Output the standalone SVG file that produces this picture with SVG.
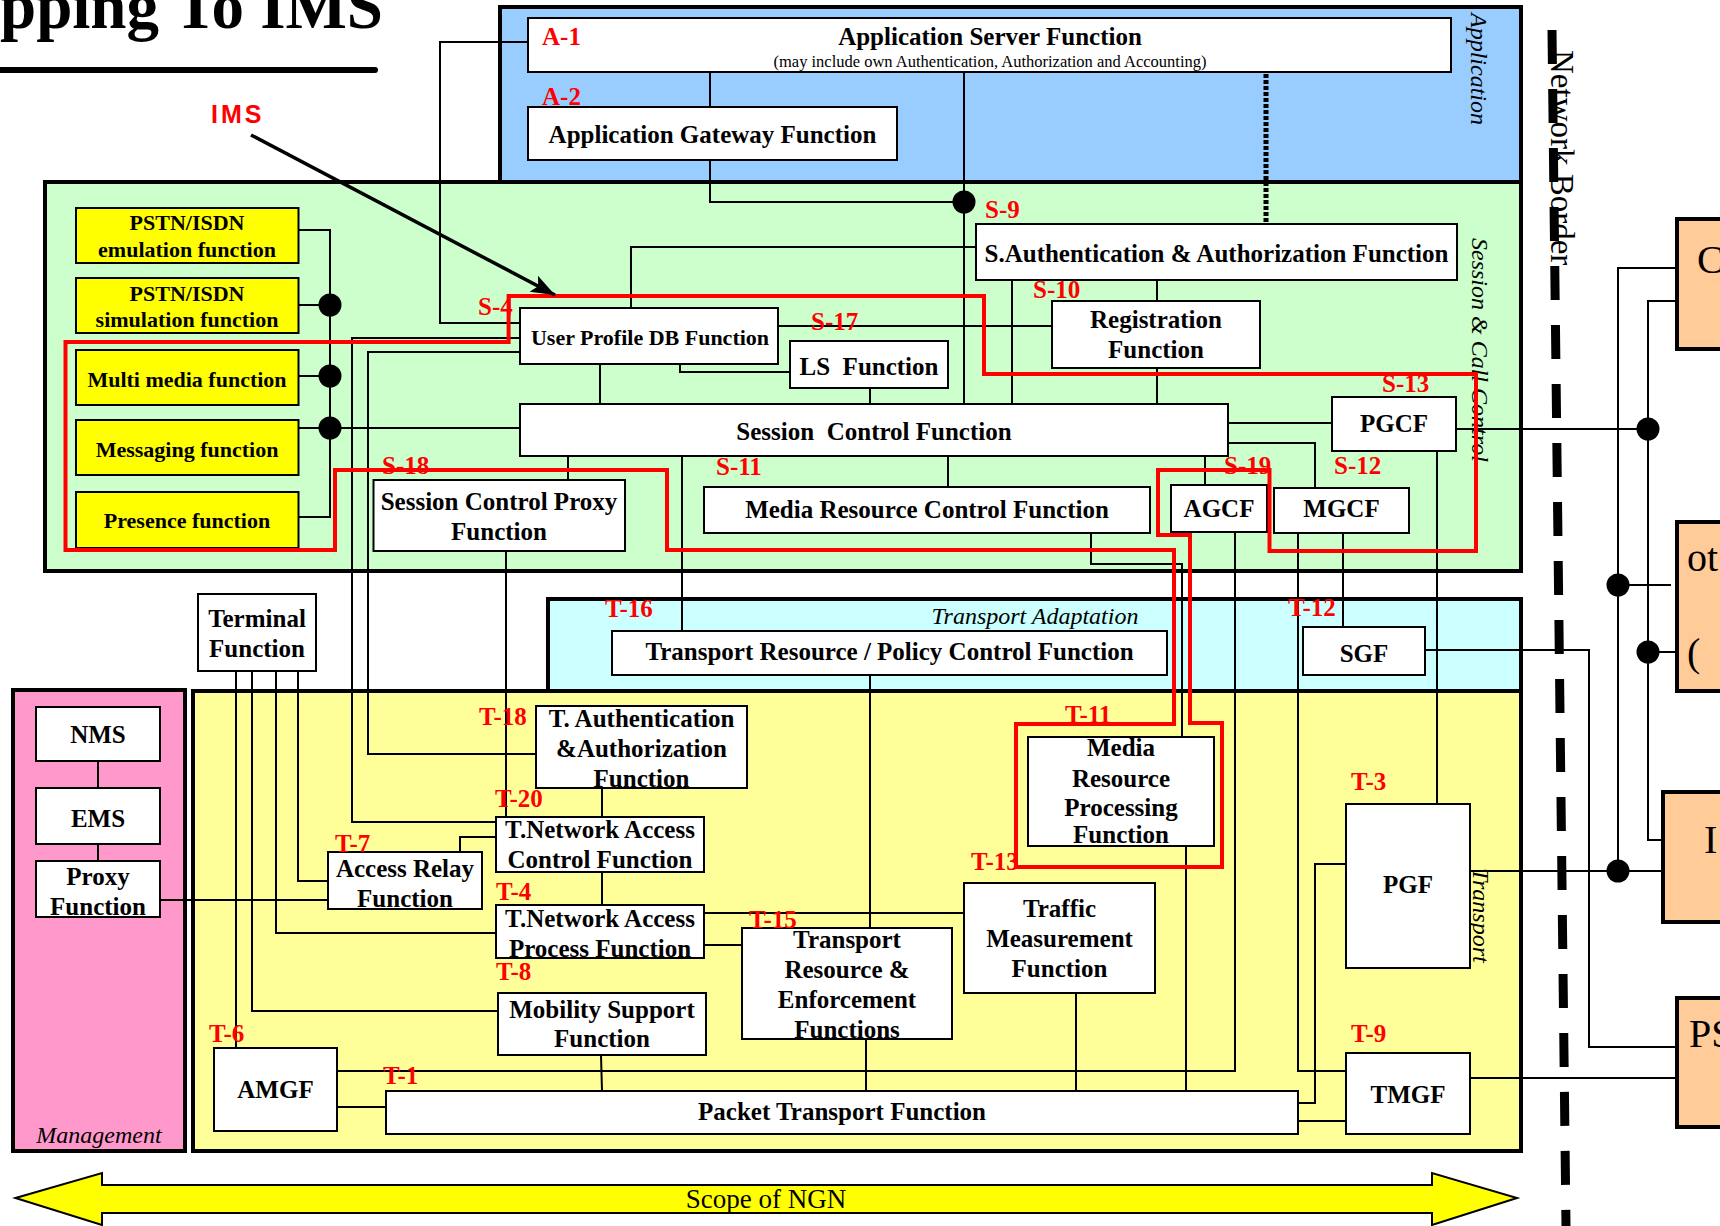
<svg xmlns="http://www.w3.org/2000/svg" width="1720" height="1226" viewBox="0 0 1720 1226">
<style>
.region{stroke:#000;stroke-width:4}
.box{fill:#fff;stroke:#000;stroke-width:2}
.ybox{fill:#ff0;stroke:#000;stroke-width:2}
.obox{fill:#fc9;stroke:#000;stroke-width:4}
.t{font-family:"Liberation Serif","Times New Roman",serif;font-weight:bold;font-size:25px;text-anchor:middle;fill:#000}
.ts{font-size:22px}
.lbl{font-family:"Liberation Serif","Times New Roman",serif;font-weight:bold;font-size:25px;fill:#f00}
.wire{fill:none;stroke:#000;stroke-width:2}
.dot{fill:#000}
.layer{font-family:"Liberation Serif","Times New Roman",serif;font-style:italic;font-size:24px;fill:#000}
.big{font-family:"Liberation Serif","Times New Roman",serif;font-size:40px;fill:#000}
</style>
<defs>
<marker id="ah" markerUnits="userSpaceOnUse" markerWidth="26" markerHeight="20" refX="24" refY="10" orient="auto">
<path d="M0,1 L24,10 L0,19 L5,10 Z" fill="#000"/>
</marker>
</defs>
<rect width="1720" height="1226" fill="#fff"/>

<!-- title -->
<text x="0" y="28" font-family="Liberation Serif, Times New Roman, serif" font-weight="bold" font-size="65">pping To IMS</text>
<line x1="0" y1="70" x2="375" y2="70" stroke="#000" stroke-width="6" stroke-linecap="round"/>

<!-- layers -->
<g id="layers">
<rect class="region" x="500" y="7" width="1021" height="175" fill="#99ccff"/>
<rect class="region" x="45" y="182" width="1476" height="389" fill="#ccffcc"/>
<rect class="region" x="548" y="599" width="973" height="92" fill="#ccffff"/>
<rect class="region" x="193" y="691" width="1328" height="460" fill="#ffff99"/>
<rect class="region" x="13" y="690" width="172" height="461" fill="#ff99cc"/>
<text class="layer" transform="translate(1471,13) rotate(90)">Application</text>
<text class="layer" transform="translate(1472,238) rotate(90)">Session &amp; Call Control</text>
<text class="layer" transform="translate(1473,868) rotate(90)">Transport</text>
<text class="layer" x="1035" y="624" text-anchor="middle" font-size="25">Transport Adaptation</text>
<text class="layer" x="99" y="1143" text-anchor="middle" font-size="25">Management</text>
</g>

<!-- network border -->
<g id="network-border">
<line x1="1552" y1="30" x2="1566" y2="1226" stroke="#000" stroke-width="9" stroke-dasharray="34 25"/>
<text transform="translate(1551,50) rotate(90)" font-family="Liberation Serif, Times New Roman, serif" font-size="33">Network Border</text>
</g>

<!-- connectors -->
<g id="connectors">
<polyline class="wire" points="528,42 440,42 440,323 520,323"/>
<polyline class="wire" points="710,72 710,107"/>
<polyline class="wire" points="710,160 710,202 964,202"/>
<polyline class="wire" points="964,72 964,404"/>
<line x1="1266" y1="74" x2="1266" y2="224" stroke="#000" stroke-width="5" stroke-dasharray="4 2"/>
<polyline class="wire" points="976,247 631,247 631,308"/>
<polyline class="wire" points="1157,280 1157,301"/>
<polyline class="wire" points="1157,368 1157,404"/>
<polyline class="wire" points="1012,280 1012,404"/>
<polyline class="wire" points="778,326 1052,326"/>
<polyline class="wire" points="680,364 680,372 790,372"/>
<polyline class="wire" points="600,364 600,404"/>
<polyline class="wire" points="870,388 870,404"/>
<polyline class="wire" points="1228,423 1332,423"/>
<polyline class="wire" points="1228,443 1315,443 1315,488"/>
<polyline class="wire" points="1205,456 1205,485"/>
<polyline class="wire" points="568,456 568,480"/>
<polyline class="wire" points="948,456 948,487"/>
<polyline class="wire" points="682,456 682,631"/>
<polyline class="wire" points="298,230 330,230 330,517 298,517"/>
<polyline class="wire" points="298,305 330,305"/>
<polyline class="wire" points="298,376 330,376"/>
<polyline class="wire" points="298,428 520,428"/>
<polyline class="wire" points="520,338 352,338 352,822 496,822"/>
<polyline class="wire" points="520,352 368,352 368,754 536,754"/>
<polyline class="wire" points="506,551 506,817"/>
<polyline class="wire" points="602,788 602,817"/>
<polyline class="wire" points="1091,533 1091,564 1182,564 1182,737"/>
<polyline class="wire" points="1186,846 1186,1091"/>
<polyline class="wire" points="1235,532 1235,1071 337,1071"/>
<polyline class="wire" points="1298,533 1298,1071 1346,1071"/>
<polyline class="wire" points="1343,533 1343,627"/>
<polyline class="wire" points="1437,451 1437,804"/>
<polyline class="wire" points="870,675 870,928"/>
<polyline class="wire" points="602,872 602,905"/>
<polyline class="wire" points="704,913 964,913"/>
<polyline class="wire" points="704,945 742,945"/>
<polyline class="wire" points="298,671 298,881 328,881"/>
<polyline class="wire" points="276,671 276,933 496,933"/>
<polyline class="wire" points="252,671 252,1011 498,1011"/>
<polyline class="wire" points="236,671 236,1048"/>
<polyline class="wire" points="160,900 328,900"/>
<polyline class="wire" points="460,852 460,837 496,837"/>
<polyline class="wire" points="601,1055 602,1091"/>
<polyline class="wire" points="866,1039 866,1091"/>
<polyline class="wire" points="1076,993 1076,1091"/>
<polyline class="wire" points="337,1107 386,1107"/>
<polyline class="wire" points="1346,864 1315,864 1315,1103 1298,1103"/>
<polyline class="wire" points="1298,1121 1346,1121"/>
<polyline class="wire" points="98,761 98,788"/>
<polyline class="wire" points="98,844 98,861"/>
<polyline class="wire" points="1425,650 1589,650 1589,1047 1677,1047"/>
<polyline class="wire" points="1470,1078 1677,1078"/>
<polyline class="wire" points="1470,871 1663,871"/>
<polyline class="wire" points="1456,429 1648,429"/>
<polyline class="wire" points="1677,268 1618,268 1618,871"/>
<polyline class="wire" points="1677,301 1648,301 1648,840 1663,840"/>
<polyline class="wire" points="1618,585 1671,585"/>
<polyline class="wire" points="1648,652 1677,652"/>
<circle class="dot" cx="964" cy="202" r="11.5"/>
<circle class="dot" cx="330" cy="305" r="11.5"/>
<circle class="dot" cx="330" cy="376" r="11.5"/>
<circle class="dot" cx="330" cy="428" r="11.5"/>
<circle class="dot" cx="1648" cy="429" r="11.5"/>
<circle class="dot" cx="1618" cy="585" r="11.5"/>
<circle class="dot" cx="1648" cy="652" r="11.5"/>
<circle class="dot" cx="1618" cy="871" r="11.5"/>
</g>

<!-- application layer -->
<g id="as"><rect class="box" x="528" y="18" width="923" height="54"/>
<text class="t" x="990" y="45" font-size="26.5">Application Server Function</text>
<text x="990" y="67" text-anchor="middle" font-family="Liberation Serif, Times New Roman, serif" font-size="16.5">(may include own Authentication, Authorization and Accounting)</text></g>
<g id="agf"><rect class="box" x="528" y="107" width="369" height="53"/><text class="t" x="712.5" y="143">Application Gateway Function</text></g>

<!-- session and call control layer -->
<g id="sauth"><rect class="box" x="976" y="224" width="481" height="56"/><text class="t" x="1216.5" y="262">S.Authentication &amp; Authorization Function</text></g>
<g id="updb"><rect class="box" x="520" y="308" width="258" height="56"/><text class="t ts" x="650" y="345">User Profile DB Function</text></g>
<g id="ls"><rect class="box" x="790" y="341" width="158" height="47"/><text class="t" x="869" y="375">LS&#160; Function</text></g>
<g id="reg"><rect class="box" x="1052" y="301" width="208" height="67"/><text class="t" x="1156" y="328">Registration</text><text class="t" x="1156" y="358">Function</text></g>
<g id="scf"><rect class="box" x="520" y="404" width="708" height="52"/><text class="t" x="874" y="440">Session&#160; Control Function</text></g>
<g id="pgcf"><rect class="box" x="1332" y="397" width="124" height="54"/><text class="t" x="1394" y="432">PGCF</text></g>
<g id="scpf"><rect class="box" x="373.5" y="480" width="251.5" height="71"/><text class="t" x="499" y="510">Session Control Proxy</text><text class="t" x="499" y="540">Function</text></g>
<g id="mrcf"><rect class="box" x="704" y="487" width="446" height="46"/><text class="t" x="927" y="518">Media Resource Control Function</text></g>
<g id="agcf"><rect class="box" x="1171" y="485" width="96" height="47"/><text class="t" x="1219" y="517">AGCF</text></g>
<g id="mgcf"><rect class="box" x="1274" y="488" width="135" height="45"/><text class="t" x="1341.5" y="517">MGCF</text></g>
<g id="pstn-emu"><rect class="ybox" x="76" y="208" width="222.5" height="55"/><text class="t ts" x="187" y="230">PSTN/ISDN</text><text class="t ts" x="187" y="257">emulation function</text></g>
<g id="pstn-sim"><rect class="ybox" x="76" y="278" width="222.5" height="55"/><text class="t ts" x="187" y="301">PSTN/ISDN</text><text class="t ts" x="187" y="327">simulation function</text></g>
<g id="multimedia"><rect class="ybox" x="76" y="350" width="222.5" height="55"/><text class="t ts" x="187" y="387">Multi media function</text></g>
<g id="messaging"><rect class="ybox" x="76" y="420" width="222.5" height="55"/><text class="t ts" x="187" y="457">Messaging function</text></g>
<g id="presence"><rect class="ybox" x="76" y="492" width="222.5" height="56"/><text class="t ts" x="187" y="528">Presence function</text></g>

<!-- transport adaptation / transport / management -->
<g id="terminal"><rect class="box" x="198" y="594" width="118" height="77"/><text class="t" x="257" y="627">Terminal</text><text class="t" x="257" y="657">Function</text></g>
<g id="trpcf"><rect class="box" x="612" y="631" width="555" height="44"/><text class="t" x="889.5" y="660">Transport Resource / Policy Control Function</text></g>
<g id="sgf"><rect class="box" x="1303" y="627" width="122" height="48"/><text class="t" x="1364" y="662">SGF</text></g>
<g id="nms"><rect class="box" x="36" y="707" width="124" height="54"/><text class="t" x="98" y="743">NMS</text></g>
<g id="ems"><rect class="box" x="36" y="788" width="124" height="56"/><text class="t" x="98" y="827">EMS</text></g>
<g id="proxy"><rect class="box" x="36" y="861" width="124" height="56"/><text class="t" x="98" y="885">Proxy</text><text class="t" x="98" y="915">Function</text></g>
<g id="tauth"><rect class="box" x="536" y="706" width="211" height="82"/><text class="t" x="641.5" y="727">T. Authentication</text><text class="t" x="641.5" y="757">&amp;Authorization</text><text class="t" x="641.5" y="787">Function</text></g>
<g id="mrpf"><rect class="box" x="1028" y="737" width="186" height="109"/><text class="t" x="1121" y="756">Media</text><text class="t" x="1121" y="787">Resource</text><text class="t" x="1121" y="816">Processing</text><text class="t" x="1121" y="843">Function</text></g>
<g id="pgf"><rect class="box" x="1346" y="804" width="124" height="164"/><text class="t" x="1408" y="893">PGF</text></g>
<g id="tnacf"><rect class="box" x="496" y="817" width="208" height="55"/><text class="t" x="600" y="838">T.Network Access</text><text class="t" x="600" y="868">Control Function</text></g>
<g id="arf"><rect class="box" x="328" y="852" width="154" height="57"/><text class="t" x="405" y="877">Access Relay</text><text class="t" x="405" y="907">Function</text></g>
<g id="tnapf"><rect class="box" x="496" y="905" width="208" height="53"/><text class="t" x="600" y="927">T.Network Access</text><text class="t" x="600" y="957">Process Function</text></g>
<g id="tmf"><rect class="box" x="964" y="883" width="191" height="110"/><text class="t" x="1059.5" y="917">Traffic</text><text class="t" x="1059.5" y="947">Measurement</text><text class="t" x="1059.5" y="977">Function</text></g>
<g id="tre"><rect class="box" x="742" y="928" width="210" height="111"/><text class="t" x="847" y="948">Transport</text><text class="t" x="847" y="978">Resource &amp;</text><text class="t" x="847" y="1008">Enforcement</text><text class="t" x="847" y="1038">Functions</text></g>
<g id="msf"><rect class="box" x="498" y="993" width="208" height="62"/><text class="t" x="602" y="1018">Mobility Support</text><text class="t" x="602" y="1047">Function</text></g>
<g id="amgf"><rect class="box" x="214" y="1048" width="123" height="83"/><text class="t" x="275.5" y="1098">AMGF</text></g>
<g id="tmgf"><rect class="box" x="1346" y="1053" width="124" height="81"/><text class="t" x="1408" y="1103">TMGF</text></g>
<g id="ptf"><rect class="box" x="386" y="1091" width="912" height="43"/><text class="t" x="842" y="1120">Packet Transport Function</text></g>

<!-- other networks -->
<g id="other-c"><rect class="obox" x="1677" y="219" width="60" height="130"/><text class="big" x="1697" y="273">C</text></g>
<g id="other-ot"><rect class="obox" x="1677" y="522" width="60" height="169"/><text class="big" x="1687" y="571">ot</text><text class="big" x="1687" y="666">(</text></g>
<g id="other-i"><rect class="obox" x="1663" y="792" width="80" height="130"/><text class="big" x="1704" y="853">I</text></g>
<g id="other-ps"><rect class="obox" x="1677" y="998" width="60" height="129"/><text class="big" x="1689" y="1047">PS</text></g>

<!-- IMS scope outline -->
<g id="ims-outline">
<polygon points="65.5,342 508.6,342 508.6,296 984,296 984,374 1476,374 1476,551 1269.5,551 1269.5,470 1158,470 1158,535 1190,535 1190,723 1222,723 1222,867 1016,867 1016,724 1174,724 1174,550 667,550 667,470 335,470 335,550 65.5,550" fill="none" stroke="#f00" stroke-width="4"/>
<text x="211" y="123" font-family="Liberation Sans, Arial, sans-serif" font-weight="bold" font-size="25" letter-spacing="3" fill="#f00">IMS</text>
<line x1="251" y1="135" x2="555" y2="295" stroke="#000" stroke-width="3.5" marker-end="url(#ah)"/>
</g>

<!-- reference point labels -->
<g id="ref-points">
<text class="lbl" x="542" y="45">A-1</text>
<text class="lbl" x="542" y="105">A-2</text>
<text class="lbl" x="985" y="218">S-9</text>
<text class="lbl" x="478" y="315">S-4</text>
<text class="lbl" x="811" y="330">S-17</text>
<text class="lbl" x="1033" y="298">S-10</text>
<text class="lbl" x="1382" y="392">S-13</text>
<text class="lbl" x="382" y="474">S-18</text>
<text class="lbl" x="716" y="475">S-11</text>
<text class="lbl" x="1224" y="474">S-19</text>
<text class="lbl" x="1334" y="474">S-12</text>
<text class="lbl" x="605" y="617">T-16</text>
<text class="lbl" x="1288" y="616">T-12</text>
<text class="lbl" x="479" y="725">T-18</text>
<text class="lbl" x="1065" y="723">T-11</text>
<text class="lbl" x="495" y="807">T-20</text>
<text class="lbl" x="1351" y="790">T-3</text>
<text class="lbl" x="335" y="852">T-7</text>
<text class="lbl" x="971" y="870">T-13</text>
<text class="lbl" x="496" y="900">T-4</text>
<text class="lbl" x="749" y="928">T-15</text>
<text class="lbl" x="496" y="980">T-8</text>
<text class="lbl" x="209" y="1042">T-6</text>
<text class="lbl" x="1351" y="1042">T-9</text>
<text class="lbl" x="383" y="1084">T-1</text>
</g>

<!-- scope arrow -->
<g id="scope">
<polygon points="15.5,1198 102,1173 102,1185 1432,1185 1432,1173 1517,1198 1432,1225 1432,1213 102,1213 102,1225" fill="#ff0" stroke="#000" stroke-width="2"/>
<text x="766" y="1208" text-anchor="middle" font-family="Liberation Serif, Times New Roman, serif" font-size="27">Scope of NGN</text>
</g>
</svg>
